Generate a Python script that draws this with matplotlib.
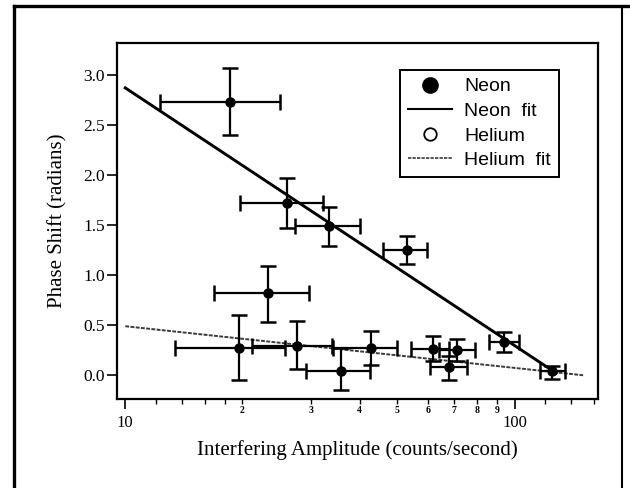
import matplotlib
matplotlib.use("Agg")
import matplotlib.pyplot as plt
from matplotlib.lines import Line2D
import numpy as np

# ---------------- data ----------------
neon_x = [18.6, 26.1, 33.4, 52.9, 94.0, 124.5]
neon_y = [2.73, 1.72, 1.49, 1.25, 0.33, 0.04]
neon_x_lo = [12.3, 19.7, 27.3, 45.8, 86.1, 116.3]
neon_x_hi = [24.9, 32.3, 40.0, 59.6, 102.4, 134.9]
neon_y_lo = [2.40, 1.47, 1.29, 1.11, 0.23, -0.04]
neon_y_hi = [3.07, 1.97, 1.68, 1.39, 0.43, 0.09]

helium_x = [23.3, 19.6, 27.6, 35.9, 42.9, 61.8, 71.0, 67.9]
helium_y = [0.82, 0.27, 0.29, 0.04, 0.27, 0.26, 0.25, 0.08]
helium_x_lo = [16.9, 13.4, 21.2, 29.2, 34.2, 54.2, 64.0, 60.6]
helium_x_hi = [29.6, 25.7, 33.9, 42.5, 50.0, 68.0, 79.1, 75.3]
helium_y_lo = [0.53, -0.05, 0.06, -0.15, 0.10, 0.14, 0.14, -0.05]
helium_y_hi = [1.09, 0.60, 0.54, 0.27, 0.44, 0.39, 0.36, 0.19]

# fits: y = a + b*log10(x)
neon_fit_a, neon_fit_b = 5.445, -2.574
neon_fit_range = [10, 128]
helium_fit_a, helium_fit_b = 0.9065, -0.4165
helium_fit_range = [10, 150]

y_ticks = [0.0, 0.5, 1.0, 1.5, 2.0, 2.5, 3.0]
x_major = [10, 100]
x_major_labels = ["10", "100"]
x_minor = [12, 14, 16, 18, 20, 30, 40, 50, 60, 70, 80, 90, 120, 140, 160]
x_minor_labels = ["", "", "", "", "2", "3", "4", "5", "6", "7", "8", "9", "", "", ""]

legend_labels = ["Neon", "Neon  fit", "Helium", "Helium  fit"]

# ---------------- figure ----------------
fig = plt.figure(figsize=(6.3, 4.88), dpi=100)
ax = fig.add_axes([0.1865, 0.1824, 0.949 - 0.1865, 0.912 - 0.1824])

serif = ["Liberation Serif", "DejaVu Serif"]
sans = ["Liberation Sans", "DejaVu Sans"]

def errs(x, lo, hi):
    x = np.asarray(x); lo = np.asarray(lo); hi = np.asarray(hi)
    return np.vstack([x - lo, hi - x])

eb_kw = dict(fmt="o", color="black", ms=6.5, elinewidth=1.6, capsize=6,
             capthick=1.8, zorder=3)
ax.errorbar(neon_x, neon_y, xerr=errs(neon_x, neon_x_lo, neon_x_hi),
            yerr=errs(neon_y, neon_y_lo, neon_y_hi), **eb_kw)
ax.errorbar(helium_x, helium_y, xerr=errs(helium_x, helium_x_lo, helium_x_hi),
            yerr=errs(helium_y, helium_y_lo, helium_y_hi), **eb_kw)

xf = np.array(neon_fit_range, dtype=float)
ax.plot(xf, neon_fit_a + neon_fit_b * np.log10(xf), color="black", lw=2.1, zorder=2)
xh = np.array(helium_fit_range, dtype=float)
ax.plot(xh, helium_fit_a + helium_fit_b * np.log10(xh), color="#3a3a3a",
        lw=1.4, ls=(0, (2, 0.7)), zorder=2)

ax.set_xscale("log")
ax.set_xlim(9.55, 163.7)
ax.set_ylim(-0.237, 3.32)

ax.set_xticks(x_major)
ax.set_xticklabels(x_major_labels, fontfamily=serif, fontsize=12)
ax.set_xticks(x_minor, minor=True)
ax.set_xticklabels(x_minor_labels, minor=True, fontfamily=serif, fontsize=7,
                   fontweight="bold")
ax.set_yticks(y_ticks)
ax.set_yticklabels([f"{v:.1f}" for v in y_ticks], fontfamily=serif, fontsize=12.5)

ax.tick_params(axis="x", which="major", direction="out", length=7.2, width=1.2, pad=4)
ax.tick_params(axis="x", which="minor", direction="out", length=3.5, width=1.0, pad=1.5)
ax.tick_params(axis="y", which="major", direction="out", length=7.2, width=1.2, pad=1.8)
ax.tick_params(axis="y", which="minor", left=False)

for s in ax.spines.values():
    s.set_linewidth(1.6)

ax.set_xlabel("Interfering Amplitude (counts/second)", fontfamily=serif, fontsize=15)
ax.set_ylabel("Phase Shift (radians)", fontfamily=serif, fontsize=15)
ax.xaxis.set_label_coords(0.5, -0.115)
ax.yaxis.set_label_coords(-0.104, 0.5)

handles = [
    Line2D([], [], ls="none", marker="o", color="black", ms=11),
    Line2D([], [], color="black", lw=1.5),
    Line2D([], [], ls="none", marker="o", mfc="white", mec="black", mew=1.3, ms=9),
    Line2D([], [], color="#3a3a3a", lw=1.2, ls=(0, (2, 0.7))),
]
leg = ax.legend(handles, legend_labels, loc="upper left",
                bbox_to_anchor=(0.588, 0.924), borderaxespad=0.0,
                frameon=True, fancybox=False,
                edgecolor="black", framealpha=1, borderpad=0.4,
                handlelength=2.3, handletextpad=0.6, labelspacing=0.36,
                prop={"family": sans, "size": 14})
leg.get_frame().set_linewidth(1.4)

# outer frame of the figure
fl = 2.4
fig.add_artist(Line2D([0.023, 0.023], [0.0, 0.987], transform=fig.transFigure,
                      color="black", lw=fl))
fig.add_artist(Line2D([0.023, 1.0], [0.987, 0.987], transform=fig.transFigure,
                      color="black", lw=fl))
fig.add_artist(Line2D([0.987, 0.987], [0.0, 0.987], transform=fig.transFigure,
                      color="black", lw=1.5))

fig.savefig("out.png", dpi=100)
